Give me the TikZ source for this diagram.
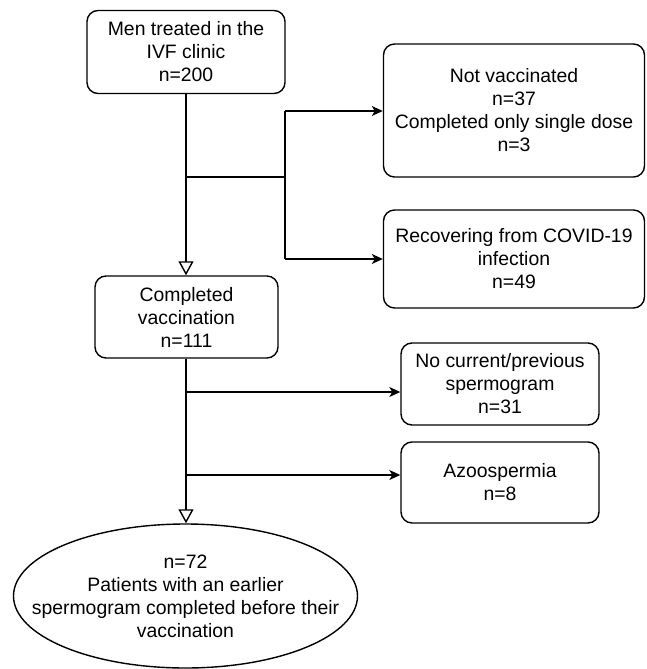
\documentclass[tikz,border=0pt]{standalone}
\usepackage{fontspec}
\setmainfont{Liberation Sans}
\usetikzlibrary{arrows.meta,shapes.geometric}
\begin{document}
\begin{tikzpicture}[x=1pt,y=-1pt,
  every node/.style={font=\fontsize{19.4}{23}\selectfont, align=center, inner sep=0pt},
  rbox/.style={draw, line width=1.4pt, rounded corners=11pt},
  oval/.style={draw, line width=1.4pt, ellipse},
  conn/.style={line width=1.4pt},
  fillarrow/.style={conn, -{Stealth[length=11pt,width=10pt,inset=3pt]}},
  openarrow/.style={conn, -{Triangle[open,length=14pt,width=15pt,line width=1.4pt]}}]
\useasboundingbox (0,0) rectangle (646,669);

\node[rbox, minimum width=198pt, minimum height=83pt] (men) at (186,52)
  {Men treated in the\\IVF clinic\\n=200};
\node[rbox, minimum width=183pt, minimum height=82pt] (comp) at (186.5,317)
  {Completed\\vaccination\\n=111};
\node[rbox, minimum width=261pt, minimum height=133pt] (notv) at (514,110.5)
  {Not vaccinated\\n=37\\Completed only single dose\\n=3};
\node[rbox, minimum width=261pt, minimum height=98pt] (rec) at (514,259)
  {Recovering from COVID-19\\infection\\n=49};
\node[rbox, minimum width=198pt, minimum height=82pt] (nsp) at (500,384)
  {No current/previous\\spermogram\\n=31};
\node[rbox, minimum width=198pt, minimum height=81pt] (azo) at (500,482.5)
  {Azoospermia\\n=8};
\node[oval, minimum width=344pt, minimum height=144pt] (pat) at (185.5,596) {};
\node (pattext) at (pat.center)
  {n=72\\Patients with an earlier\\spermogram completed before their\\vaccination};

\coordinate (j1) at (186,177);
\coordinate (j2) at (285,177);
\coordinate (b1) at (285,111);
\coordinate (b2) at (285,259);
\coordinate (j3) at (186,392);
\coordinate (j4) at (186,475);

\draw[openarrow] (men.south -| j1) -- (comp.north -| j1);
\draw[conn] (j1) -- (j2);
\draw[conn] (b1) -- (b2);
\draw[fillarrow] (b1) -- (b1 -| notv.west);
\draw[fillarrow] (b2) -- (b2 -| rec.west);

\draw[openarrow] (comp.south -| j3) -- (pat.north -| j3);
\draw[fillarrow] (j3) -- (j3 -| nsp.west);
\draw[fillarrow] (j4) -- (j4 -| azo.west);
\end{tikzpicture}
\end{document}
